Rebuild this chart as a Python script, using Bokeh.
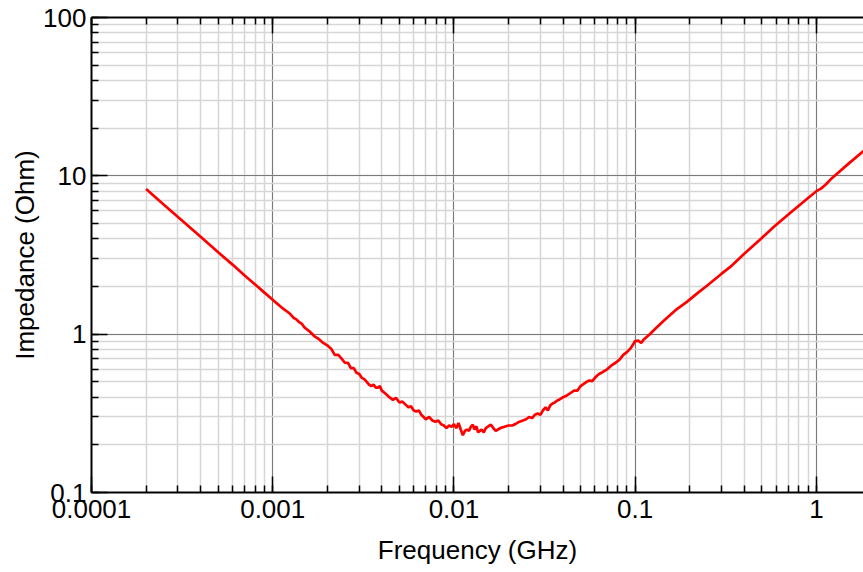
from bokeh.plotting import figure
from bokeh.models import LogAxis, LogTicker, CustomJSTickFormatter, Range1d
from bokeh.embed import file_html
from bokeh.resources import INLINE

# Frequency (GHz)
freq = [0.0002, 0.00025, 0.0003, 0.0004, 0.0005, 0.0006, 0.0007, 0.0008, 0.0009, 0.001,
        0.00105, 0.0011, 0.00115, 0.0012, 0.00125, 0.0013, 0.00135, 0.0014, 0.00145, 0.0015,
        0.0016, 0.0017, 0.0018, 0.0019, 0.002, 0.0021, 0.0022, 0.0023, 0.0024, 0.0025,
        0.0026, 0.0027, 0.0028, 0.0029, 0.003, 0.0031, 0.0032, 0.0033, 0.0034, 0.0035,
        0.0036, 0.0037, 0.0038, 0.0039, 0.004, 0.0042, 0.0044, 0.0046, 0.0048, 0.005,
        0.0052, 0.0054, 0.0056, 0.0058, 0.006, 0.0062, 0.0064, 0.0066, 0.0068, 0.007,
        0.0073, 0.0076, 0.0079, 0.0082, 0.0085, 0.0088, 0.0091, 0.0094, 0.0097, 0.01,
        0.0103, 0.0106, 0.0109, 0.0112, 0.0115, 0.0118, 0.0121, 0.0124, 0.0127, 0.013,
        0.0133, 0.0136, 0.0139, 0.0142, 0.0146, 0.015, 0.0155, 0.016, 0.0165, 0.017,
        0.0175, 0.018, 0.019, 0.02, 0.021, 0.022, 0.023, 0.024, 0.025, 0.026,
        0.027, 0.028, 0.029, 0.03, 0.031, 0.032, 0.033, 0.034, 0.035, 0.036,
        0.037, 0.038, 0.04, 0.042, 0.044, 0.046, 0.048, 0.05, 0.052, 0.054,
        0.056, 0.058, 0.06, 0.062, 0.064, 0.066, 0.07, 0.074, 0.078, 0.082,
        0.086, 0.09, 0.094, 0.098, 0.1, 0.104, 0.108, 0.112, 0.12, 0.13,
        0.14, 0.15, 0.17, 0.193, 0.22, 0.25, 0.3, 0.335, 0.4, 0.5,
        0.581, 0.7, 0.8, 0.9, 1.0, 1.06, 1.12, 1.2, 1.3, 1.5, 1.8, 1.9]

# Impedance (Ohm)
impedance = [8.25, 6.6, 5.5, 4.12, 3.29, 2.75, 2.35, 2.06, 1.83, 1.65,
             1.57, 1.50, 1.44, 1.39, 1.34, 1.27, 1.24, 1.19, 1.16, 1.10,
             1.04, 0.97, 0.93, 0.88, 0.85, 0.81, 0.74, 0.74, 0.70, 0.66,
             0.66, 0.61, 0.61, 0.57, 0.56, 0.53, 0.52, 0.50, 0.48, 0.47,
             0.48, 0.46, 0.46, 0.47, 0.44, 0.42, 0.40, 0.385, 0.395, 0.37,
             0.375, 0.36, 0.345, 0.35, 0.33, 0.325, 0.33, 0.31, 0.30, 0.29,
             0.30, 0.285, 0.28, 0.285, 0.27, 0.265, 0.255, 0.265, 0.26, 0.27,
             0.255, 0.275, 0.25, 0.23, 0.245, 0.25, 0.245, 0.26, 0.268, 0.25,
             0.262, 0.24, 0.245, 0.25, 0.24, 0.255, 0.262, 0.268, 0.255, 0.245,
             0.25, 0.255, 0.26, 0.265, 0.265, 0.272, 0.28, 0.285, 0.29, 0.30,
             0.295, 0.31, 0.315, 0.31, 0.33, 0.345, 0.33, 0.355, 0.365, 0.37,
             0.38, 0.385, 0.40, 0.41, 0.425, 0.44, 0.44, 0.47, 0.485, 0.50,
             0.51, 0.505, 0.53, 0.55, 0.565, 0.575, 0.60, 0.635, 0.66, 0.69,
             0.74, 0.77, 0.81, 0.87, 0.905, 0.91, 0.88, 0.93, 0.995, 1.09,
             1.18, 1.27, 1.44, 1.60, 1.81, 2.03, 2.41, 2.66, 3.22, 4.05,
             4.75, 5.70, 6.48, 7.25, 8.0, 8.3, 8.75, 9.5, 10.3, 11.9, 14.2, 14.9]

x_start, x_end = 0.0001, 1.82
y_start, y_end = 0.1, 100

FONT = "Liberation Sans"

p = figure(width=863, height=572, x_axis_type="log", y_axis_type="log",
           x_range=Range1d(x_start, x_end), y_range=Range1d(y_start, y_end),
           output_backend="svg", toolbar_location=None,
           min_border_left=91, min_border_right=0, min_border_top=17, min_border_bottom=80)
p.outline_line_color = None
p.background_fill_color = "white"
p.border_fill_color = "white"

fmt = CustomJSTickFormatter(code="return String(Number(tick.toPrecision(6)));")

def style_ticks(ax):
    ax.major_tick_in = 16
    ax.major_tick_out = 0
    ax.minor_tick_in = 7
    ax.minor_tick_out = 0
    ax.major_tick_line_color = "black"
    ax.minor_tick_line_color = "black"
    ax.major_tick_line_width = 1.5
    ax.minor_tick_line_width = 1.5
    ax.axis_line_color = "black"
    ax.axis_line_width = 2

for ax in (p.xaxis[0], p.yaxis[0]):
    ax.ticker = LogTicker(num_minor_ticks=10)
    ax.formatter = fmt
    style_ticks(ax)
    ax.major_label_text_font = FONT
    ax.major_label_text_font_size = "26px"
    ax.major_label_text_color = "black"
    ax.axis_label_text_font = FONT
    ax.axis_label_text_font_size = "26px"
    ax.axis_label_text_font_style = "normal"
    ax.axis_label_text_color = "black"

p.xaxis.axis_label = "Frequency (GHz)"
p.yaxis.axis_label = "Impedance (Ohm)"
p.xaxis.major_label_standoff = 7
p.xaxis.axis_label_standoff = 14
p.yaxis.major_label_standoff = 5
p.yaxis.axis_label_standoff = 0

top = LogAxis(ticker=LogTicker(num_minor_ticks=10), formatter=fmt)
style_ticks(top)
top.major_label_text_font_size = "1px"
top.major_label_text_color = None
top.major_label_standoff = 0
p.add_layout(top, "above")

for g in (p.xgrid[0], p.ygrid[0]):
    g.grid_line_color = "#7a7a7a"
    g.grid_line_width = 1
    g.minor_grid_line_color = "#d6d6d6"
    g.minor_grid_line_width = 1.5

p.line(freq, impedance, line_color="#ff0000", line_width=2.7)

open("out.html", "w").write(file_html(p, INLINE))
